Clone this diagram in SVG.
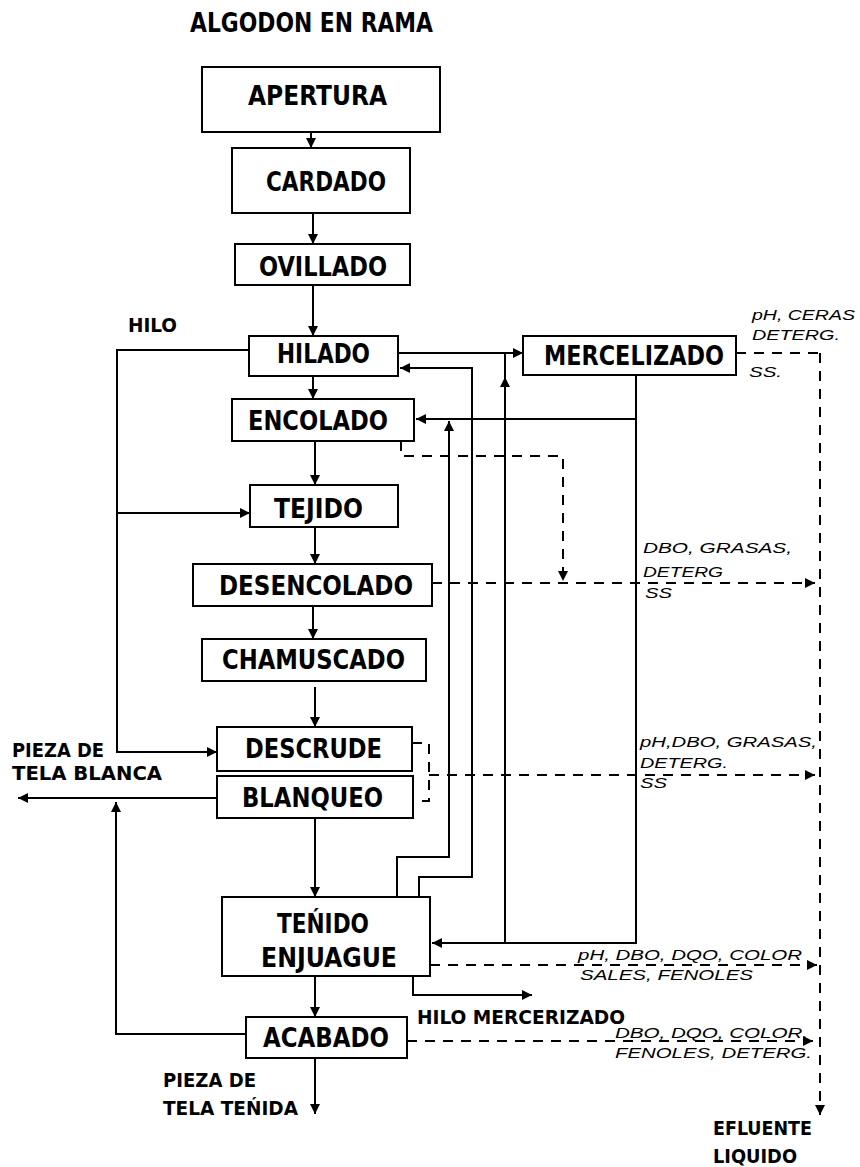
<svg xmlns="http://www.w3.org/2000/svg" width="860" height="1167" viewBox="0 0 860 1167">
<defs>
<marker id="ah" viewBox="0 0 10 10" refX="10" refY="5" markerWidth="11" markerHeight="10" markerUnits="userSpaceOnUse" orient="auto">
<path d="M0,0 L10,5 L0,10 z" fill="#000"/>
</marker>
</defs>
<style>
rect{fill:#fff;stroke:#000;stroke-width:2}
.n{font-family:"DejaVu Sans Condensed","DejaVu Sans",sans-serif;font-weight:bold;font-size:26px;fill:#000}
.l{font-family:"DejaVu Sans Condensed","DejaVu Sans",sans-serif;font-weight:bold;font-size:20px;fill:#000}
.i{font-family:"Liberation Sans",Arial,sans-serif;font-style:italic;font-size:15px;fill:#000}
.s{fill:none;stroke:#000;stroke-width:2}
.d{fill:none;stroke:#000;stroke-width:2;stroke-dasharray:10 8}
.a{marker-end:url(#ah)}
</style>
<rect x="0" y="0" width="860" height="1167" style="fill:#fff;stroke:none"/>
<text class="n" x="190" y="32" textLength="243" lengthAdjust="spacingAndGlyphs">ALGODON EN RAMA</text>

<g id="connectors">
<path class="s a" d="M311,132 V148"/>
<path class="s a" d="M313,213 V244"/>
<path class="s a" d="M313,285 V336"/>
<path class="s a" d="M313,376 V399"/>
<path class="s a" d="M315,441 V485"/>
<path class="s a" d="M315,527 V564"/>
<path class="s a" d="M313,606 V639"/>
<path class="s a" d="M315,687 V727"/>
<path class="s a" d="M315,818 V897"/>
<path class="s a" d="M315,976 V1017"/>
<path class="s a" d="M315,1058 V1114"/>
<path class="s a" d="M249,350 H117 V752 H217"/>
<path class="s a" d="M117,513 H250"/>
<path class="s a" d="M217,798 H18"/>
<path class="s a" d="M246,1034 H116 V802"/>
<path class="s a" d="M398,353 H523"/>
<path class="s a" d="M636,375 V419 H416"/>
<path class="s a" d="M636,419 V943 H432"/>
<path class="s a" d="M505,943 V377"/>
<path class="s" d="M505,380 V353"/>
<path class="s a" d="M397,897 V857 H449 V421"/>
<path class="s a" d="M419,897 V877 H472 V368 H400"/>
<path class="s a" d="M413,976 V995 H532"/>
<path class="d" d="M736,353 H820"/>
<path class="d a" d="M820,353 V1115"/>
<path class="d a" d="M401,441 V456 H563 V581"/>
<path class="d a" d="M432,583 H815"/>
<path class="d" d="M412,743 H429 V801 H413"/>
<path class="d a" d="M429,775 H815"/>
<path class="d a" d="M430,965 H817"/>
<path class="d a" d="M407,1041 H813"/>
</g>

<g id="apertura"><rect x="202" y="67" width="238" height="65"/><text class="n" x="248" y="104.5" textLength="139" lengthAdjust="spacingAndGlyphs">APERTURA</text></g>
<g id="cardado"><rect x="232" y="148" width="178" height="65"/><text class="n" x="266" y="190.5" textLength="120" lengthAdjust="spacingAndGlyphs">CARDADO</text></g>
<g id="ovillado"><rect x="235" y="244" width="175" height="41"/><text class="n" x="259" y="275.5" textLength="128" lengthAdjust="spacingAndGlyphs">OVILLADO</text></g>
<g id="hilado"><rect x="249" y="336" width="149" height="40"/><text class="n" x="277" y="362.5" textLength="93" lengthAdjust="spacingAndGlyphs">HILADO</text></g>
<g id="encolado"><rect x="232" y="399" width="182" height="42"/><text class="n" x="248" y="429.5" textLength="140" lengthAdjust="spacingAndGlyphs">ENCOLADO</text></g>
<g id="tejido"><rect x="250" y="485" width="148" height="42"/><text class="n" x="274" y="517.5" textLength="89" lengthAdjust="spacingAndGlyphs">TEJIDO</text></g>
<g id="desencolado"><rect x="193" y="564" width="239" height="42"/><text class="n" x="219" y="594.5" textLength="194" lengthAdjust="spacingAndGlyphs">DESENCOLADO</text></g>
<g id="chamuscado"><rect x="202" y="639" width="224" height="42"/><text class="n" x="222" y="668.5" textLength="183" lengthAdjust="spacingAndGlyphs">CHAMUSCADO</text></g>
<g id="descrude"><rect x="217" y="727" width="195" height="44"/><text class="n" x="245" y="757.5" textLength="137" lengthAdjust="spacingAndGlyphs">DESCRUDE</text></g>
<g id="blanqueo"><rect x="217" y="776" width="196" height="42"/><text class="n" x="242" y="806.5" textLength="141" lengthAdjust="spacingAndGlyphs">BLANQUEO</text></g>
<g id="tenido"><rect x="222" y="897" width="208" height="79"/><text class="n" x="277" y="932.5" textLength="92" lengthAdjust="spacingAndGlyphs">TEŃIDO</text><text class="n" x="261" y="966.5" textLength="136" lengthAdjust="spacingAndGlyphs">ENJUAGUE</text></g>
<g id="acabado"><rect x="246" y="1017" width="161" height="41"/><text class="n" x="263" y="1046.5" textLength="126" lengthAdjust="spacingAndGlyphs">ACABADO</text></g>
<g id="mercelizado"><rect x="523" y="336" width="213" height="39"/><text class="n" x="544" y="364.5" textLength="180" lengthAdjust="spacingAndGlyphs">MERCELIZADO</text></g>

<g id="labels">
<text class="l" x="128" y="332" textLength="49" lengthAdjust="spacingAndGlyphs">HILO</text>
<text class="l" x="12" y="757" textLength="92" lengthAdjust="spacingAndGlyphs">PIEZA DE</text>
<text class="l" x="12" y="780" textLength="150" lengthAdjust="spacingAndGlyphs">TELA BLANCA</text>
<text class="l" x="163" y="1087" textLength="93" lengthAdjust="spacingAndGlyphs">PIEZA DE</text>
<text class="l" x="163" y="1115" textLength="135" lengthAdjust="spacingAndGlyphs">TELA TEŃIDA</text>
<text class="l" x="417" y="1024" textLength="208" lengthAdjust="spacingAndGlyphs">HILO MERCERIZADO</text>
<text class="l" x="713" y="1135" textLength="99" lengthAdjust="spacingAndGlyphs">EFLUENTE</text>
<text class="l" x="713" y="1163" textLength="84" lengthAdjust="spacingAndGlyphs">LIQUIDO</text>
</g>
<g id="pollutants">
<text class="i" x="752" y="320" textLength="103" lengthAdjust="spacingAndGlyphs">pH, CERAS</text>
<text class="i" x="752" y="340" textLength="88" lengthAdjust="spacingAndGlyphs">DETERG.</text>
<text class="i" x="749" y="377" textLength="33" lengthAdjust="spacingAndGlyphs">SS.</text>
<text class="i" x="643" y="553" textLength="149" lengthAdjust="spacingAndGlyphs">DBO, GRASAS,</text>
<text class="i" x="643" y="577" textLength="80" lengthAdjust="spacingAndGlyphs">DETERG</text>
<text class="i" x="645" y="598" textLength="27" lengthAdjust="spacingAndGlyphs">SS</text>
<text class="i" x="640" y="747" textLength="177" lengthAdjust="spacingAndGlyphs">pH,DBO, GRASAS,</text>
<text class="i" x="640" y="768" textLength="88" lengthAdjust="spacingAndGlyphs">DETERG.</text>
<text class="i" x="640" y="788" textLength="27" lengthAdjust="spacingAndGlyphs">SS</text>
<text class="i" x="578" y="960" textLength="224" lengthAdjust="spacingAndGlyphs">pH, DBO, DQO, COLOR</text>
<text class="i" x="580" y="980" textLength="173" lengthAdjust="spacingAndGlyphs">SALES, FENOLES</text>
<text class="i" x="615" y="1038" textLength="193" lengthAdjust="spacingAndGlyphs">DBO, DQO, COLOR,</text>
<text class="i" x="615" y="1058" textLength="197" lengthAdjust="spacingAndGlyphs">FENOLES, DETERG.</text>
</g>
</svg>
